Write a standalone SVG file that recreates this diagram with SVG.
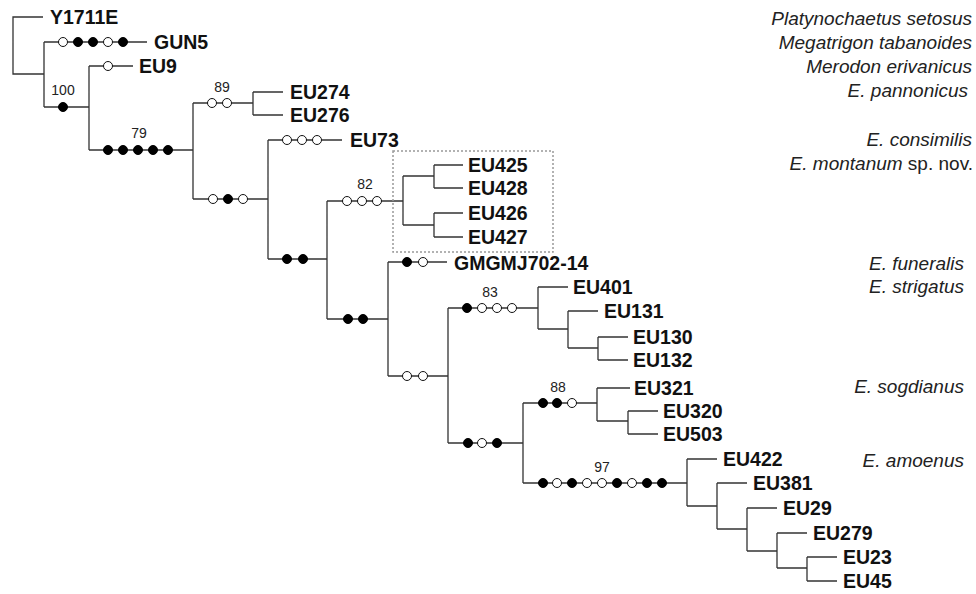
<svg xmlns="http://www.w3.org/2000/svg" width="976" height="594" viewBox="0 0 976 594">
<style>
.br{fill:none;stroke:#333;stroke-width:1.3}
.f{fill:#000;stroke:#000;stroke-width:1}
.o{fill:#fff;stroke:#111;stroke-width:1}
.lf{font-family:"Liberation Sans",Arial,sans-serif;font-weight:bold;font-size:19.5px;fill:#111}
.sp{font-family:"Liberation Sans",Arial,sans-serif;font-style:italic;font-size:19px;fill:#222;text-anchor:end}
.bs{font-family:"Liberation Sans",Arial,sans-serif;font-size:14px;fill:#222;text-anchor:middle}
.box{fill:none;stroke:#999;stroke-width:1.5;stroke-dasharray:2 2}
</style>
<rect width="976" height="594" fill="#fff"/>
<g id="connectors">
<path class="br" d="M43,17H13V74H44 M44,42V107 M44,42H147 M44,107H89 M89,66V150 M89,66H133 M89,150H193
M193,103V199 M193,103H253 M253,92V115 M253,92H283 M253,115H283
M193,199H268 M268,140V259 M268,140H342 M268,259H327
M327,201V319 M327,201H403 M403,176V225 M403,176H434 M434,165V188 M434,165H463 M434,188H463 M403,225H434 M434,213V237 M434,213H463 M434,237H463
M327,319H388 M388,262V376 M388,262H447 M388,376H448
M448,308V443 M448,308H538 M538,287V329 M538,287H568 M538,329H568 M568,311V348 M568,311H598 M568,348H598 M598,337V360 M598,337H628 M598,360H628
M448,443H523 M523,403V483 M523,403H597 M597,388V421 M597,388H630 M597,421H628 M628,411V434 M628,411H658 M628,434H658
M523,483H687 M687,459V506 M687,459H717 M687,506H717 M717,483V529 M717,483H747 M717,529H747 M747,508V551 M747,508H777 M747,551H777 M777,533V568 M777,533H807 M777,568H807 M807,557V581 M807,557H837 M807,581H837"/>
</g>
<g id="characters">
<circle class="o" cx="63" cy="42" r="4.5"/><circle class="f" cx="78" cy="42" r="4.5"/><circle class="f" cx="93" cy="42" r="4.5"/><circle class="o" cx="108" cy="42" r="4.5"/><circle class="f" cx="123" cy="42" r="4.5"/>
<circle class="f" cx="63" cy="107" r="4.5"/>
<circle class="o" cx="108" cy="66" r="4.5"/>
<circle class="f" cx="108" cy="150" r="4.5"/><circle class="f" cx="123" cy="150" r="4.5"/><circle class="f" cx="138" cy="150" r="4.5"/><circle class="f" cx="153" cy="150" r="4.5"/><circle class="f" cx="168" cy="150" r="4.5"/>
<circle class="o" cx="212" cy="103" r="4.5"/><circle class="o" cx="227" cy="103" r="4.5"/>
<circle class="o" cx="213" cy="199" r="4.5"/><circle class="f" cx="228" cy="199" r="4.5"/><circle class="o" cx="243" cy="199" r="4.5"/>
<circle class="o" cx="287" cy="140" r="4.5"/><circle class="o" cx="302" cy="140" r="4.5"/><circle class="o" cx="317" cy="140" r="4.5"/>
<circle class="f" cx="287" cy="259" r="4.5"/><circle class="f" cx="303" cy="259" r="4.5"/>
<circle class="o" cx="347" cy="201" r="4.5"/><circle class="o" cx="362" cy="201" r="4.5"/><circle class="o" cx="377" cy="201" r="4.5"/>
<circle class="f" cx="348" cy="319" r="4.5"/><circle class="f" cx="363" cy="319" r="4.5"/>
<circle class="f" cx="407" cy="262" r="4.5"/><circle class="o" cx="423" cy="262" r="4.5"/>
<circle class="o" cx="407" cy="376" r="4.5"/><circle class="o" cx="423" cy="376" r="4.5"/>
<circle class="f" cx="467" cy="308" r="4.5"/><circle class="o" cx="482" cy="308" r="4.5"/><circle class="o" cx="497" cy="308" r="4.5"/><circle class="o" cx="512" cy="308" r="4.5"/>
<circle class="f" cx="468" cy="443" r="4.5"/><circle class="o" cx="482" cy="443" r="4.5"/><circle class="f" cx="497" cy="443" r="4.5"/>
<circle class="f" cx="543" cy="403" r="4.5"/><circle class="f" cx="557" cy="403" r="4.5"/><circle class="o" cx="572" cy="403" r="4.5"/>
<circle class="f" cx="543" cy="483" r="4.5"/><circle class="o" cx="557" cy="483" r="4.5"/><circle class="f" cx="572" cy="483" r="4.5"/><circle class="o" cx="587" cy="483" r="4.5"/><circle class="o" cx="602" cy="483" r="4.5"/><circle class="f" cx="617" cy="483" r="4.5"/><circle class="o" cx="632" cy="483" r="4.5"/><circle class="f" cx="647" cy="483" r="4.5"/><circle class="f" cx="662" cy="483" r="4.5"/>
</g>
<g id="support">
<text class="bs" x="63" y="95">100</text>
<text class="bs" x="139" y="138">79</text>
<text class="bs" x="222" y="92">89</text>
<text class="bs" x="365" y="189">82</text>
<text class="bs" x="490" y="297">83</text>
<text class="bs" x="558" y="392">88</text>
<text class="bs" x="602" y="472">97</text>
</g>
<rect id="montanum-box" class="box" x="393" y="151" width="160" height="101"/>
<g id="leaf-Y1711E"><text class="lf" x="50" y="24">Y1711E</text></g>
<g id="leaf-GUN5"><text class="lf" x="154" y="49">GUN5</text></g>
<g id="leaf-EU9"><text class="lf" x="139" y="73">EU9</text></g>
<g id="leaf-EU274"><text class="lf" x="290" y="99">EU274</text></g>
<g id="leaf-EU276"><text class="lf" x="290" y="122">EU276</text></g>
<g id="leaf-EU73"><text class="lf" x="350" y="147">EU73</text></g>
<g id="leaf-EU425"><text class="lf" x="468" y="172">EU425</text></g>
<g id="leaf-EU428"><text class="lf" x="468" y="195">EU428</text></g>
<g id="leaf-EU426"><text class="lf" x="468" y="220">EU426</text></g>
<g id="leaf-EU427"><text class="lf" x="468" y="244">EU427</text></g>
<g id="leaf-GMGMJ702-14"><text class="lf" x="454" y="270">GMGMJ702-14</text></g>
<g id="leaf-EU401"><text class="lf" x="573" y="294">EU401</text></g>
<g id="leaf-EU131"><text class="lf" x="604" y="318">EU131</text></g>
<g id="leaf-EU130"><text class="lf" x="633" y="344">EU130</text></g>
<g id="leaf-EU132"><text class="lf" x="633" y="367">EU132</text></g>
<g id="leaf-EU321"><text class="lf" x="634" y="395">EU321</text></g>
<g id="leaf-EU320"><text class="lf" x="663" y="418">EU320</text></g>
<g id="leaf-EU503"><text class="lf" x="663" y="441">EU503</text></g>
<g id="leaf-EU422"><text class="lf" x="723" y="466">EU422</text></g>
<g id="leaf-EU381"><text class="lf" x="753" y="490">EU381</text></g>
<g id="leaf-EU29"><text class="lf" x="783" y="515">EU29</text></g>
<g id="leaf-EU279"><text class="lf" x="813" y="540">EU279</text></g>
<g id="leaf-EU23"><text class="lf" x="843" y="564">EU23</text></g>
<g id="leaf-EU45"><text class="lf" x="843" y="588">EU45</text></g>
<g id="species">
<text class="sp" x="972" y="25">Platynochaetus setosus</text>
<text class="sp" x="972" y="49">Megatrigon tabanoides</text>
<text class="sp" x="972" y="73">Merodon erivanicus</text>
<text class="sp" x="968" y="97">E. pannonicus</text>
<text class="sp" x="972" y="146">E. consimilis</text>
<text class="sp" x="973" y="170"><tspan>E. montanum</tspan><tspan font-style="normal"> sp. nov.</tspan></text>
<text class="sp" x="964" y="270">E. funeralis</text>
<text class="sp" x="964" y="293">E. strigatus</text>
<text class="sp" x="964" y="393">E. sogdianus</text>
<text class="sp" x="964" y="467">E. amoenus</text>
</g>
</svg>
